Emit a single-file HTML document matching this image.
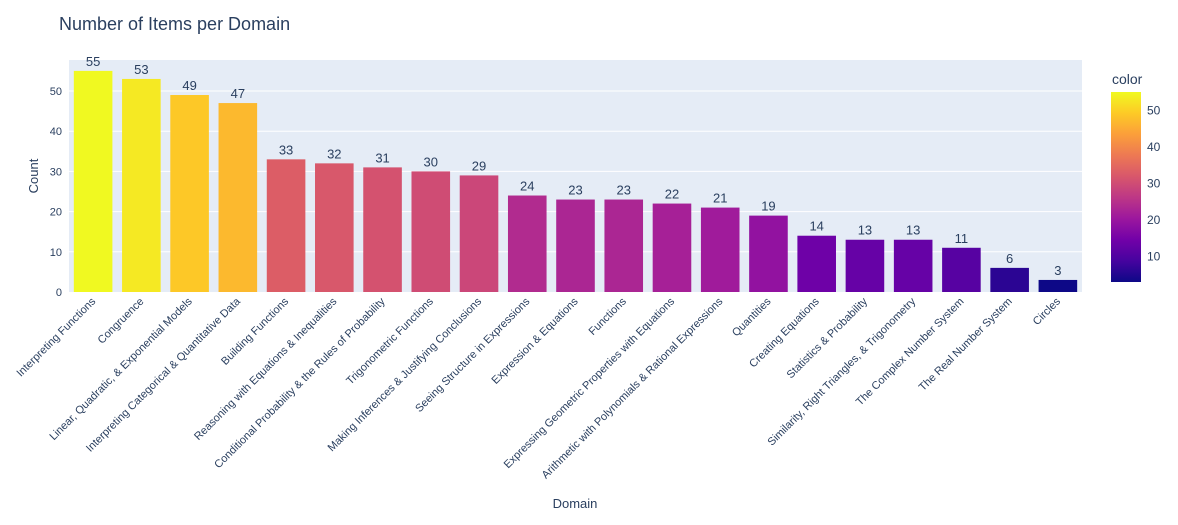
<!DOCTYPE html>
<html><head><meta charset="utf-8"><style>
body{margin:0;background:#fff;font-family:"Liberation Sans",Arial,sans-serif}
svg text{font-family:"Liberation Sans",Arial,sans-serif;fill:#2a3f5f}
</style></head><body>
<svg id="chart" width="1178" height="520">
<defs><linearGradient id="cb" x1="0" y1="1" x2="0" y2="0">
<stop offset="0" stop-color="#0d0887"/><stop offset="0.111" stop-color="#46039f"/><stop offset="0.222" stop-color="#7201a8"/><stop offset="0.333" stop-color="#9c179e"/><stop offset="0.444" stop-color="#bd3786"/><stop offset="0.556" stop-color="#d8576b"/><stop offset="0.667" stop-color="#ed7953"/><stop offset="0.778" stop-color="#fb9f3a"/><stop offset="0.889" stop-color="#fdca26"/><stop offset="1" stop-color="#f0f921"/>
</linearGradient></defs>
<text x="59" y="30" font-size="18">Number of Items per Domain</text>
<rect x="69" y="60" width="1013" height="232" fill="#e5ecf6"/>
<g id="grid"></g><g id="bars"></g><g id="labels"></g><g id="xt"></g><g id="yt"></g>
<text x="38" y="176" font-size="13" text-anchor="middle" transform="rotate(-90 38 176)">Count</text>
<text x="575" y="508" font-size="13" text-anchor="middle">Domain</text>
<text x="1112" y="84" font-size="14">color</text>
<rect x="1111" y="92" width="30" height="190" fill="url(#cb)"/>
<g id="cbt"></g>
</svg>
<script>
const categories=["Interpreting Functions","Congruence","Linear, Quadratic, & Exponential Models","Interpreting Categorical & Quantitative Data","Building Functions","Reasoning with Equations & Inequalities","Conditional Probability & the Rules of Probability","Trigonometric Functions","Making Inferences & Justifying Conclusions","Seeing Structure in Expressions","Expression & Equations","Functions","Expressing Geometric Properties with Equations","Arithmetic with Polynomials & Rational Expressions","Quantities","Creating Equations","Statistics & Probability","Similarity, Right Triangles, & Trigonometry","The Complex Number System","The Real Number System","Circles"];
const counts=[55,53,49,47,33,32,31,30,29,24,23,23,22,21,19,14,13,13,11,6,3];
const yTicks=[0,10,20,30,40,50];
const cbTicks=[10,20,30,40,50];
</script>
<script>
const NS="http://www.w3.org/2000/svg";
function mk(t,a,p,txt){const e=document.createElementNS(NS,t);for(const k in a)e.setAttribute(k,a[k]);if(txt!==undefined)e.textContent=txt;document.getElementById(p).appendChild(e);return e;}
const n=categories.length;
const X0=69,X1=1082,step=(X1-X0)/n;
const xc=i=>X0+step*(i+0.5);
const y=v=>292-v*4.02;
const stops=[[0,"#0d0887"],[.111,"#46039f"],[.222,"#7201a8"],[.333,"#9c179e"],[.444,"#bd3786"],[.556,"#d8576b"],[.667,"#ed7953"],[.778,"#fb9f3a"],[.889,"#fdca26"],[1,"#f0f921"]];
const cmin=Math.min(...counts),cmax=Math.max(...counts);
function hx(h){return [1,3,5].map(i=>parseInt(h.substr(i,2),16));}
function col(v){const t=(v-cmin)/(cmax-cmin||1);for(let i=1;i<stops.length;i++){if(t<=stops[i][0]){const a=stops[i-1],b=stops[i];const f=(t-a[0])/(b[0]-a[0]);const ca=hx(a[1]),cb=hx(b[1]);return "rgb("+ca.map((c,j)=>Math.round(c+(cb[j]-c)*f)).join(",")+")";}}return stops[9][1];}
yTicks.forEach(t=>{
 if(t>0){const l=mk("line",{x1:X0,x2:X1,y1:y(t),y2:y(t),stroke:"#fff","stroke-width":1},"grid");
 
 }
 const e=mk("text",{x:62,y:y(t)+4,"font-size":11,"text-anchor":"end"},"yt",t);
 
 
});
const bw=step*0.8;
counts.forEach((v,i)=>{
 const r=mk("rect",{x:xc(i)-bw/2,y:y(v),width:bw,height:292-y(v),fill:col(v)},"bars");
 
 
 const t=mk("text",{x:xc(i),y:y(v)-5,"font-size":13,"text-anchor":"middle"},"labels",v);
 
 
 const a=mk("text",{x:xc(i)+3,y:302,"font-size":11,"text-anchor":"end",transform:"rotate(-45 "+(xc(i)+3)+" 302)"},"xt",categories[i]);
 
 
});
cbTicks.forEach(t=>{
 const yy=282-(t-cmin)/(cmax-cmin)*190;
 const e=mk("text",{x:1147,y:yy+4,"font-size":12},"cbt",t);
 
 
});
</script>
</body></html>
